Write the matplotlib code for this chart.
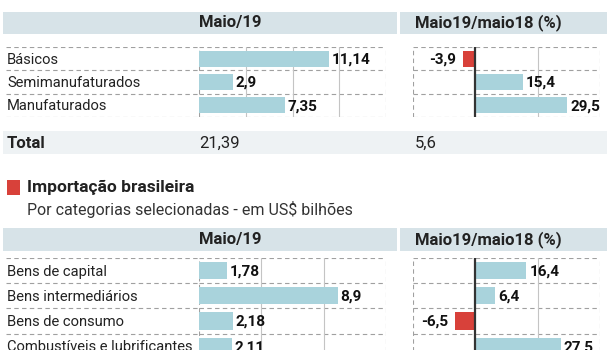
import matplotlib
matplotlib.use('Agg')
import matplotlib.pyplot as plt
from matplotlib.patches import Rectangle

# Data
exp_categories = ['Básicos', 'Semimanufaturados', 'Manufaturados']
exp_values = [11.14, 2.9, 7.35]
exp_change = [-3.9, 15.4, 29.5]
exp_total = 21.39
exp_total_change = 5.6

imp_title = 'Importação brasileira'
imp_subtitle = 'Por categorias selecionadas - em US$ bilhões'
imp_categories = ['Bens de capital', 'Bens intermediários', 'Bens de consumo',
                  'Combustíveis e lubrificantes']
imp_values = [1.78, 8.9, 2.18, 2.11]
imp_change = [16.4, 6.4, -6.5, 27.5]

header_left = 'Maio/19'
header_right = 'Maio19/maio18 (%)'

# Style
BAR = '#a9d3dc'
RED = '#d8413a'
HEAD = '#d7e3e8'
TOTAL_BG = '#eef2f4'
GRID = '#a0a0a0'
plt.rcParams['font.family'] = ['Roboto', 'DejaVu Sans']

W, H = 607, 350
fig = plt.figure(figsize=(W / 100, H / 100), dpi=100)


def box(x0, y0, x1, y1):
    # pixel box (top-left origin) -> figure fraction
    return [x0 / W, 1 - y1 / H, (x1 - x0) / W, (y1 - y0) / H]


def fmt(v):
    return f'{v:g}'.replace('.', ',')


def band(x0, y0, x1, y1, color):
    b = box(x0, y0, x1, y1)
    fig.patches.append(Rectangle((b[0], b[1]), b[2], b[3], transform=fig.transFigure,
                                 facecolor=color, edgecolor='none', zorder=0))


def header(y0, y1):
    band(3, y0, 397, y1, HEAD)
    band(400, y0, 607, y1, HEAD)
    yc = 1 - (y0 + y1) / 2 / H
    fig.text(199 / W, yc, header_left, fontsize=12, fontweight='bold', va='center', color='#222')
    fig.text(415 / W, yc, header_right, fontsize=12, fontweight='bold', va='center', color='#222')


def dashed_rows(ax, n):
    for y in range(n + 1):
        ax.axhline(y - 0.5, color=GRID, lw=0.8, ls=(0, (4, 3)), zorder=1)


def section(y_top, row_h, cats, vals, chg, vmax):
    n = len(cats)
    y_bot = y_top + row_h * n

    # category labels
    lab = fig.add_axes(box(6, y_top, 198, y_bot))
    lab.set_xlim(0, 1)
    lab.set_ylim(n - 0.5, -0.5)
    lab.axis('off')
    dashed_rows(lab, n)
    for i, c in enumerate(cats):
        lab.text(0.005, i + 0.04, c, fontsize=10.6, va='center', ha='left', color='#222')

    # values
    ax = fig.add_axes(box(199, y_top, 386, y_bot))
    ax.barh(range(n), vals, height=0.68, color=BAR, zorder=2)
    ax.set_xlim(0, vmax)
    ax.set_ylim(n - 0.5, -0.5)
    dashed_rows(ax, n)
    for x in range(4, vmax, 4):
        ax.axvline(x, color='#c4c4c4', lw=0.8, zorder=1)
    for x in (0, vmax):
        ax.axvline(x, color=GRID, lw=0.8, ls=(0, (4, 3)), zorder=1)
    for i, v in enumerate(vals):
        ax.annotate(fmt(v), (v, i + 0.04), xytext=(2, 0), textcoords='offset points',
                    va='center', ha='left', fontsize=11, fontweight='bold', color='#111')
    ax.axis('off')

    # change
    ax2 = fig.add_axes(box(413, y_top, 600, y_bot))
    colors = [RED if v < 0 else BAR for v in chg]
    ax2.barh(range(n), chg, height=0.68, color=colors, zorder=2)
    ax2.set_xlim(-20, 40)
    ax2.set_ylim(n - 0.5, -0.5)
    dashed_rows(ax2, n)
    ax2.axvline(20, color='#c4c4c4', lw=0.8, zorder=1)
    for x in (-20, 40):
        ax2.axvline(x, color=GRID, lw=0.8, ls=(0, (4, 3)), zorder=1)
    ax2.axvline(0, color='#333', lw=1.6, zorder=3)
    for i, v in enumerate(chg):
        if v < 0:
            ax2.annotate(fmt(v), (v, i + 0.04), xytext=(-5, 0), textcoords='offset points',
                         va='center', ha='right', fontsize=11, fontweight='bold', color='#111')
        else:
            ax2.annotate(fmt(v), (v, i + 0.04), xytext=(2, 0), textcoords='offset points',
                         va='center', ha='left', fontsize=11, fontweight='bold', color='#111')
    ax2.axis('off')


# Export block (top)
header(12, 34)
section(47, 23.3, exp_categories, exp_values, exp_change, 16)

band(3, 131, 607, 154, TOTAL_BG)
yc = 1 - 143 / H
fig.text(7 / W, yc, 'Total', fontsize=12, fontweight='bold', va='center', color='#222')
fig.text(199 / W, yc, fmt(exp_total), fontsize=12, va='center', color='#222')
fig.text(415 / W, yc, fmt(exp_total_change), fontsize=12, va='center', color='#222')

# Import block
band(7, 180, 20, 195, RED)
fig.text(27 / W, 1 - 187.5 / H, imp_title, fontsize=12.5, fontweight='bold', va='center',
         color='#222')
fig.text(27 / W, 1 - 209 / H, imp_subtitle, fontsize=11.5, va='center', color='#333')

header(228, 251)
section(258, 25.2, imp_categories, imp_values, imp_change, 12)

fig.savefig('out.png', dpi=100)
